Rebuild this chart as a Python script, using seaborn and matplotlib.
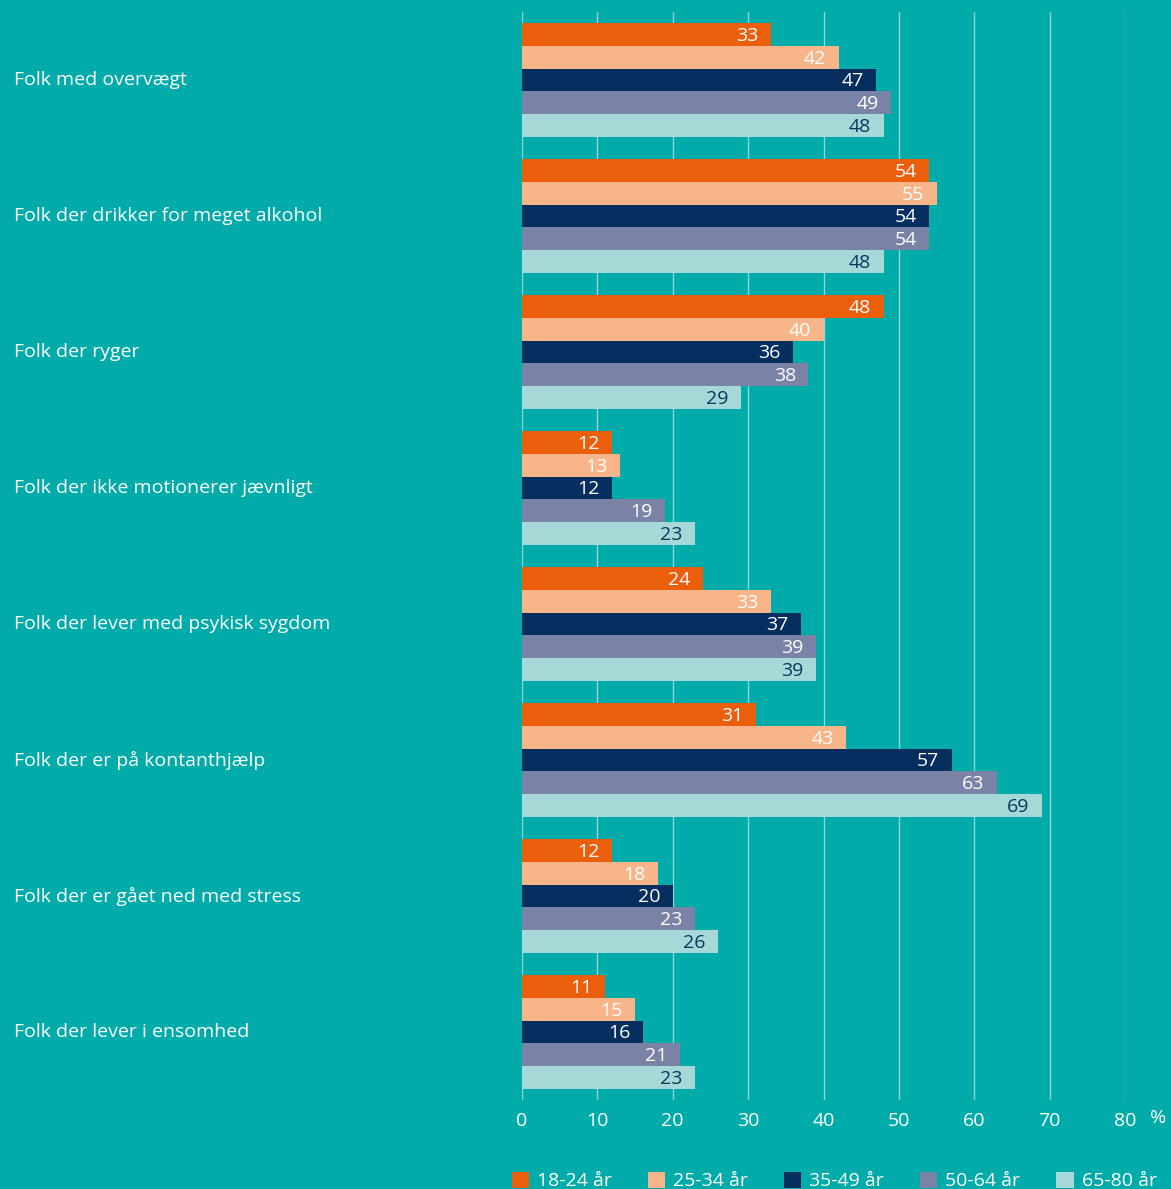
import pandas as pd
import numpy as np
import matplotlib.pyplot as plt
import seaborn as sns
from matplotlib.transforms import blended_transform_factory
from matplotlib.patches import Patch

# data
kategorier = [
    "Folk med overvægt",
    "Folk der drikker for meget alkohol",
    "Folk der ryger",
    "Folk der ikke motionerer jævnligt",
    "Folk der lever med psykisk sygdom",
    "Folk der er på kontanthjælp",
    "Folk der er gået ned med stress",
    "Folk der lever i ensomhed",
]
aldre = ["18-24 år", "25-34 år", "35-49 år", "50-64 år", "65-80 år"]
v_18_24 = [33, 54, 48, 12, 24, 31, 12, 11]
v_25_34 = [42, 55, 40, 13, 33, 43, 18, 15]
v_35_49 = [47, 54, 36, 12, 37, 57, 20, 16]
v_50_64 = [49, 54, 38, 19, 39, 63, 23, 21]
v_65_80 = [48, 48, 29, 23, 39, 69, 26, 23]
x_ticks = [0, 10, 20, 30, 40, 50, 60, 70, 80]

farver = ["#EB5E0B", "#F8B589", "#062E5F", "#7A83A6", "#A5D8D6"]
tekstfarver = ["white", "white", "white", "white", "#0B3560"]
bg = "#00ABA9"

rows = []
for alder, vals in zip(aldre, [v_18_24, v_25_34, v_35_49, v_50_64, v_65_80]):
    for k, v in zip(kategorier, vals):
        rows.append({"kategori": k, "alder": alder, "værdi": v})
df = pd.DataFrame(rows)

sns.set_style("white")
plt.rcParams['font.family'] = ['Open Sans', 'DejaVu Sans']

fig = plt.figure(figsize=(11.71, 11.89), dpi=100, facecolor=bg)
ax = fig.add_axes([522 / 1171, 1 - 1100 / 1189, (1125 - 522) / 1171, (1100 - 12) / 1189])
ax.set_facecolor(bg)

sns.barplot(data=df, y="kategori", x="værdi", hue="alder", orient="h",
            order=kategorier, hue_order=aldre, palette=farver, width=0.84,
            saturation=1, gap=0, legend=False, ax=ax, zorder=3,
            edgecolor="none", linewidth=0)

ax.set_xlim(0, 80)
ax.set_ylim(7.5, -0.5)
ax.set_xticks(x_ticks)
ax.set_xticklabels([str(t) for t in x_ticks], color="white", fontsize=14)
ax.tick_params(axis="x", length=0, pad=9)
ax.set_yticks([])
ax.set_xlabel("")
ax.set_ylabel("")
for s in ax.spines.values():
    s.set_visible(False)
ax.grid(axis="x", color="white", alpha=0.55, linewidth=1, zorder=0)
ax.set_axisbelow(True)

# value labels inside bar ends
for cont, tc in zip(ax.containers, tekstfarver):
    for bar in cont:
        w = bar.get_width()
        ax.annotate(f"{w:.0f}", (w, bar.get_y() + bar.get_height() / 2),
                    xytext=(-9, -1), textcoords="offset points",
                    ha="right", va="center", color=tc, fontsize=14, zorder=4)

# category labels at the left edge of the figure
trans = blended_transform_factory(fig.transFigure, ax.transData)
for i, k in enumerate(kategorier):
    ax.text(14 / 1171, i, k, transform=trans, ha="left", va="center",
            color="white", fontsize=14)

fig.text(1158 / 1171, 1 - 1118 / 1189, "%", color="white", fontsize=14,
         ha="center", va="center")

handles = [Patch(facecolor=c, edgecolor="none") for c in farver]
fig.legend(handles, aldre, loc="center left", ncol=5,
           bbox_to_anchor=(502 / 1171, 8 / 1189), frameon=False,
           labelcolor="white", fontsize=14, handlelength=0.9, handleheight=0.9,
           handletextpad=0.4, columnspacing=1.85, borderpad=0)

plt.savefig("out.png", dpi=100, facecolor=bg)
